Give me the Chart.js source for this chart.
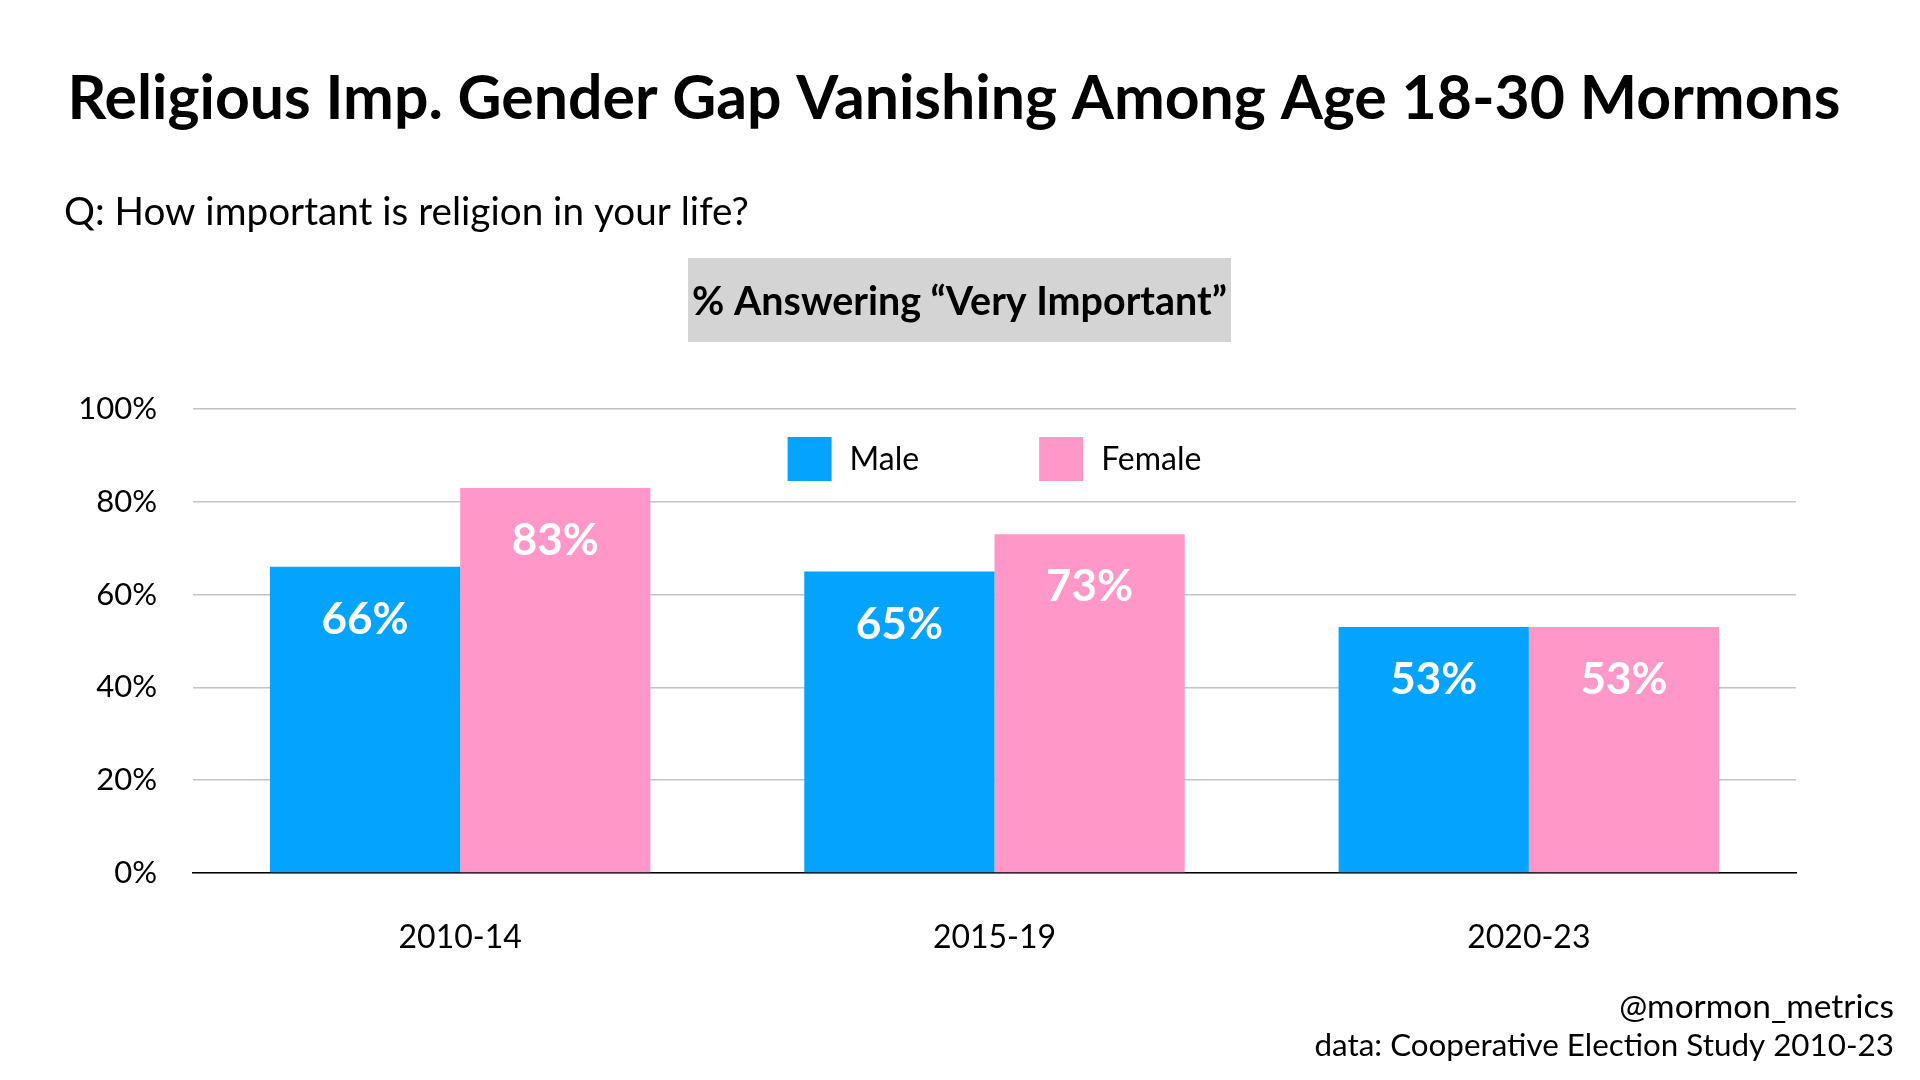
<!DOCTYPE html>
<html>
<head>
<meta charset="utf-8">
<script src="https://cdn.jsdelivr.net/npm/chart.js@4/dist/chart.umd.min.js"></script>
<style>
  html, body { margin: 0; padding: 0; background: #ffffff; }
  #c { display: block; }
</style>
</head>
<body>
<canvas id="c" width="1920" height="1080"></canvas>
<script>
const categories = ['2010-14', '2015-19', '2020-23'];
const maleValues = [66, 65, 53];
const femaleValues = [83, 73, 53];
const seriesNames = ['Male', 'Female'];
const yTickValues = [0, 20, 40, 60, 80, 100];

const titleText = 'Religious Imp. Gender Gap Vanishing Among Age 18-30 Mormons';
const subtitleText = 'Q: How important is religion in your life?';
const boxText = '% Answering \u201CVery Important\u201D';
const footerLines = ['@mormon_metrics', 'data: Cooperative Election Study 2010-23'];

const FONT = 'Lato, "Noto Sans", sans-serif';
const MALE_COLOR = '#03A3FE';
const FEMALE_COLOR = '#FF97C9';

function fitFont(ctx, text, weight, targetW, base) {
  ctx.font = weight + ' ' + base + 'px ' + FONT;
  const w = ctx.measureText(text).width;
  const size = base * targetW / w;
  ctx.font = weight + ' ' + size + 'px ' + FONT;
  return size;
}

const overlayPlugin = {
  id: 'overlay',
  afterDraw(chart) {
    const ctx = chart.ctx;
    ctx.save();
    ctx.fillStyle = '#000';
    ctx.textBaseline = 'alphabetic';
    // title
    ctx.textAlign = 'center';
    fitFont(ctx, titleText, 'bold', 1773, 64);
    ctx.fillText(titleText, 954, 119);
    // subtitle
    ctx.textAlign = 'left';
    fitFont(ctx, subtitleText, 'normal', 685, 40);
    ctx.fillText(subtitleText, 64, 225);
    // grey box
    ctx.fillStyle = '#D4D4D4';
    ctx.fillRect(688, 258, 543, 84);
    ctx.fillStyle = '#000';
    ctx.textAlign = 'center';
    fitFont(ctx, boxText, 'bold', 535, 36);
    ctx.fillText(boxText, 959.5, 315);
    // footer
    ctx.textAlign = 'right';
    fitFont(ctx, footerLines[0], 'normal', 275, 32);
    ctx.fillText(footerLines[0], 1894, 1018);
    fitFont(ctx, footerLines[1], 'normal', 580, 32);
    ctx.fillText(footerLines[1], 1894, 1056);

    // legend
    const area = chart.chartArea;
    const cx = (area.left + area.right) / 2;
    ctx.font = 'normal 32px ' + FONT;
    const box = 44, gapText = 18, gapItem = 120;
    const items = chart.data.datasets.map(d => ({ label: d.label, color: d.backgroundColor, w: ctx.measureText(d.label).width }));
    let total = 0;
    items.forEach((it, i) => { total += box + gapText + it.w + (i < items.length - 1 ? gapItem : 0); });
    let x = cx - total / 2;
    const yc = 459;
    ctx.textAlign = 'left';
    ctx.textBaseline = 'middle';
    items.forEach(it => {
      ctx.fillStyle = it.color;
      ctx.fillRect(x, yc - box / 2, box, box);
      ctx.fillStyle = '#000';
      ctx.fillText(it.label, x + box + gapText, yc + 1);
      x += box + gapText + it.w + gapItem;
    });

    // data labels
    ctx.fillStyle = '#fff';
    ctx.font = 'bold 44px ' + FONT;
    ctx.textAlign = 'center';
    ctx.textBaseline = 'middle';
    chart.data.datasets.forEach((ds, di) => {
      const meta = chart.getDatasetMeta(di);
      meta.data.forEach((bar, i) => {
        ctx.fillText(ds.data[i] + '%', bar.x, bar.y + 53);
      });
    });
    ctx.restore();
  }
};

new Chart(document.getElementById('c'), {
  type: 'bar',
  data: {
    labels: categories,
    datasets: [
      { label: seriesNames[0], data: maleValues, backgroundColor: MALE_COLOR, borderWidth: 0 },
      { label: seriesNames[1], data: femaleValues, backgroundColor: FEMALE_COLOR, borderWidth: 0 }
    ]
  },
  options: {
    responsive: false,
    animation: false,
    devicePixelRatio: 1,
    categoryPercentage: 0.712,
    barPercentage: 1.0,
    layout: { padding: { top: 409, right: 124, bottom: 0, left: 0 } },
    plugins: {
      legend: { display: false },
      title: { display: false },
      tooltip: { enabled: false }
    },
    scales: {
      x: {
        grid: { display: false, drawTicks: false },
        border: { display: true, color: '#000', width: 1.5 },
        ticks: { color: '#000', font: { family: FONT, size: 32 }, padding: 45 },
        afterFit(scale) { scale.height = 207; }
      },
      y: {
        min: 0,
        max: 100,
        afterBuildTicks(scale) { scale.ticks = yTickValues.map(v => ({ value: v })); },
        grid: { color: '#C4C4C4', lineWidth: 1.5, drawTicks: false },
        border: { display: false },
        ticks: { color: '#000', font: { family: FONT, size: 31 }, padding: 36, callback: v => v + '%' },
        afterFit(scale) { scale.width = 193; }
      }
    }
  },
  plugins: [overlayPlugin]
});
</script>
</body>
</html>
